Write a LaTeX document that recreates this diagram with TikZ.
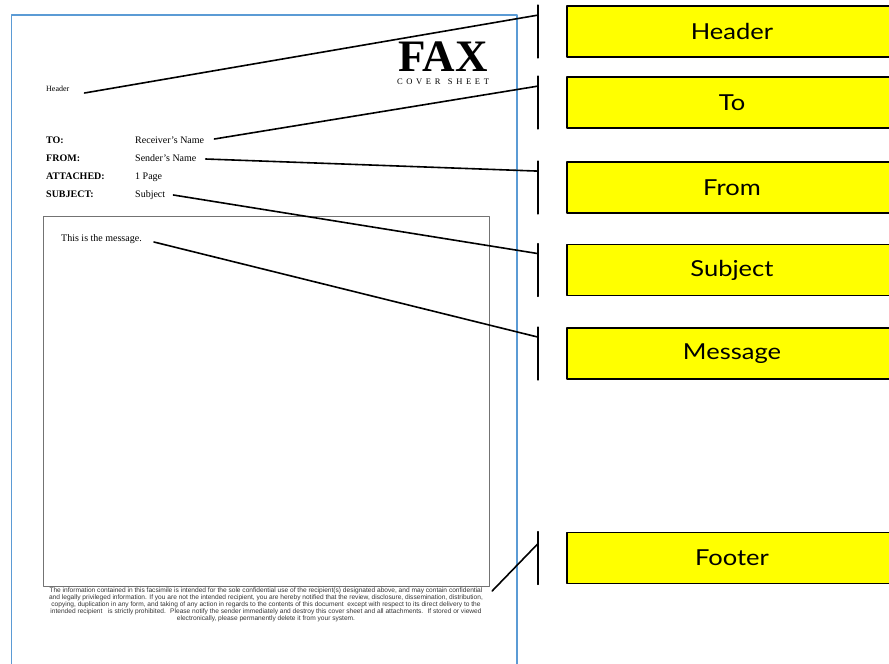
\documentclass[tikz,border=0pt]{standalone}
\usepackage{fontspec}
\setmainfont{Liberation Serif}
\newfontfamily\notefont{Liberation Sans}
\newfontfamily\tagfont{Lato}[FakeStretch=1.16]
\definecolor{pageblue}{RGB}{91,155,213}
\definecolor{tagyellow}{RGB}{255,255,0}
\tikzset{
  doctext/.style={anchor=base west, inner sep=0pt, font=\fontsize{10}{12}\selectfont},
  fieldname/.style={doctext, font=\bfseries\fontsize{10}{12}\selectfont},
  tag/.style={draw=black, line width=1.8pt, fill=tagyellow, minimum width=330,
    minimum height=51, inner sep=0pt, font=\tagfont\fontsize{22}{22}\selectfont},
  bracket/.style={line width=1.4pt},
  leader/.style={line width=1.6pt},
}
\begin{document}
\begin{tikzpicture}[x=1pt, y=-1pt, line join=round, line cap=round]
\clip (0,0) rectangle (889,664);
% the sheet, open at the bottom
\draw[pageblue, line width=1.8pt] (11.5,680) -- (11.5,15) -- (517,15) -- (517,680);
\draw[black!55, line width=0.8pt] (43,216) rectangle (489,586);

% title block
\node[anchor=base, inner sep=0pt, font=\bfseries\fontsize{45}{45}\selectfont] (fax) at (443,71.5) {FAX};
\node[anchor=base, inner sep=0pt, font=\fontsize{8.5}{9}\selectfont] (cover) at (443,84)
  {\makebox[92pt][s]{C\hfil O\hfil V\hfil E\hfil R\hfil\hfil S\hfil H\hfil E\hfil E\hfil T}};
\node[doctext, font=\fontsize{8}{9}\selectfont] (hdr) at (46,91) {Header};

% fields
\foreach \lab/\val/\y/\nm in {TO:/Receiver’s Name/143/to, FROM:/Sender’s Name/161/from,
    ATTACHED:/1 Page/179/att, SUBJECT:/Subject/197/subj}{
  \node[fieldname] (\nm-lab) at (46,\y) {\lab};
  \node[doctext] (\nm) at (135,\y) {\val};
}
\node[doctext] (msg) at (61,241) {This is the message.};

% disclaimer under the message box
\node[anchor=north, align=center, inner sep=0pt, text=black!80,
  font=\notefont\fontsize{6.6}{7.1}\selectfont] (foot) at (266,587.5)
  {The information contained in this facsimile is intended for the sole confidential use of the recipient(s) designated above, and may contain confidential\\
   and legally privileged information. If you are not the intended recipient, you are hereby notified that the review, disclosure, dissemination, distribution,\\
   copying, duplication in any form, and taking of any action in regards to the contents of this document \ except with respect to its direct delivery to the\\
   intended recipient \ \ is strictly prohibited. \ Please notify the sender immediately and destroy this cover sheet and all attachments. \ If stored or viewed\\
   electronically, please permanently delete it from your system.};

% labels on the right
\node[tag] (t-hdr) at (732,31.5) {Header};
\node[tag] (t-to) at (732,102.5) {To};
\node[tag] (t-from) at (732,187.5) {From};
\node[tag] (t-subj) at (732,270) {Subject};
\node[tag] (t-msg) at (732,353.5) {Message};
\node[tag] (t-foot) at (732,558) {Footer};

\coordinate (brk) at (538,0);
\foreach \t in {t-hdr,t-to,t-from,t-subj,t-msg,t-foot}{
  \draw[bracket] (\t.north -| brk) -- (\t.south -| brk);
  \path (\t.north -| brk) ++(0,10) coordinate (\t-in);
}

% leaders
\draw[leader] ([xshift=15pt,yshift=-2pt]hdr.base east) -- (t-hdr-in);
\draw[leader] ([xshift=10pt,yshift=4pt]to.base east) -- (t-to-in);
\draw[leader] ([xshift=9pt,yshift=2pt]from.base east) -- (t-from-in);
\draw[leader] ([xshift=8pt,yshift=2pt]subj.base east) -- (t-subj-in);
\draw[leader] ([xshift=12pt,yshift=-1pt]msg.base east) -- (t-msg-in);
\draw[leader] ([xshift=9pt,yshift=-3.5pt]foot.north east) -- ([yshift=-2pt]t-foot-in);
\end{tikzpicture}
\end{document}
